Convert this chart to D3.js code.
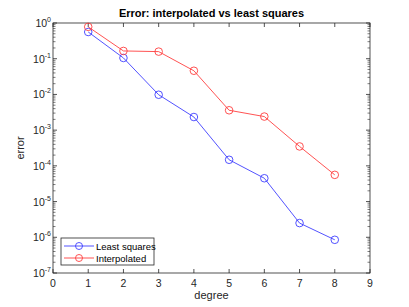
<!DOCTYPE html>
<html lang="en">
<head>
<meta charset="UTF-8">
<title>Error: interpolated vs least squares</title>
<script src="https://d3js.org/d3.v7.min.js"></script>
<style>
body { margin: 0; background: #fff; }
text { font-family: "Liberation Sans", Arial, sans-serif; }
</style>
</head>
<body>
<div id="chart"></div>
<script>
// data
var degrees = [1, 2, 3, 4, 5, 6, 7, 8];
var leastSquares = [0.56, 0.105, 0.0098, 0.00233, 1.48e-4, 4.5e-5, 2.5e-6, 8.5e-7];
var interpolated = [0.78, 0.165, 0.158, 0.046, 0.0036, 0.0024, 3.5e-4, 5.6e-5];
var xTicks = [0, 1, 2, 3, 4, 5, 6, 7, 8, 9];
var yExponents = [0, -1, -2, -3, -4, -5, -6, -7];

var W = 409, H = 307;
var margin = {top: 23, right: 39, bottom: 34, left: 53};
var width = W - margin.left - margin.right,
    height = H - margin.top - margin.bottom;

var svg = d3.select("#chart").append("svg")
    .attr("width", W).attr("height", H);
var g = svg.append("g")
    .attr("transform", "translate(" + margin.left + "," + margin.top + ")");

var x = d3.scaleLinear().domain([0, 9]).range([0, width]);
var y = d3.scaleLog().domain([1e-7, 1]).range([height, 0]);

// box
g.append("rect").attr("width", width).attr("height", height)
  .attr("fill", "none").attr("stroke", "#262626").attr("stroke-width", 0.8);

// x ticks (bottom and top, inward)
xTicks.forEach(function(t) {
  var px = x(t);
  g.append("line").attr("x1", px).attr("x2", px).attr("y1", height).attr("y2", height - 4)
    .attr("stroke", "#262626").attr("stroke-width", 0.8);
  g.append("line").attr("x1", px).attr("x2", px).attr("y1", 0).attr("y2", 4)
    .attr("stroke", "#262626").attr("stroke-width", 0.8);
  g.append("text").attr("x", px).attr("y", height + 14)
    .attr("text-anchor", "middle").attr("font-size", 10.5).attr("fill", "#262626").text(t);
});

// y ticks: major + minor (left and right, inward)
yExponents.forEach(function(e) {
  var py = y(Math.pow(10, e));
  [[0, 4], [width, width - 4]].forEach(function(s) {
    g.append("line").attr("x1", s[0]).attr("x2", s[1]).attr("y1", py).attr("y2", py)
      .attr("stroke", "#262626").attr("stroke-width", 0.8);
  });
  var lab = g.append("text").attr("x", -2).attr("y", py + 4)
    .attr("text-anchor", "end").attr("font-size", 10.5).attr("fill", "#262626");
  lab.append("tspan").text("10");
  lab.append("tspan").attr("dy", -5).attr("font-size", 7).text(e);
  if (e > -7) {
    for (var k = 2; k <= 9; k++) {
      var my = y(k * Math.pow(10, e - 1));
      [[0, 2.5], [width, width - 2.5]].forEach(function(s) {
        g.append("line").attr("x1", s[0]).attr("x2", s[1]).attr("y1", my).attr("y2", my)
          .attr("stroke", "#262626").attr("stroke-width", 0.6);
      });
    }
  }
});

// series
var series = [
  {name: "Least squares", values: leastSquares, color: "#4040ff"},
  {name: "Interpolated", values: interpolated, color: "#ff4040"}
];
var line = d3.line().x(function(d) { return x(d[0]); }).y(function(d) { return y(d[1]); });

series.forEach(function(s) {
  var pts = degrees.map(function(d, i) { return [d, s.values[i]]; });
  g.append("path").attr("d", line(pts)).attr("fill", "none")
    .attr("stroke", s.color).attr("stroke-width", 0.9);
  g.selectAll(null).data(pts).enter().append("circle")
    .attr("cx", function(d) { return x(d[0]); })
    .attr("cy", function(d) { return y(d[1]); })
    .attr("r", 3.8).attr("fill", "none")
    .attr("stroke", s.color).attr("stroke-width", 0.9);
});

// legend
var lg = g.append("g").attr("transform", "translate(8," + (height - 35) + ")");
lg.append("rect").attr("width", 93).attr("height", 27)
  .attr("fill", "#fff").attr("stroke", "#262626").attr("stroke-width", 0.8);
series.forEach(function(s, i) {
  var ly = 8 + i * 12;
  lg.append("line").attr("x1", 3).attr("x2", 33).attr("y1", ly).attr("y2", ly)
    .attr("stroke", s.color).attr("stroke-width", 0.9);
  lg.append("circle").attr("cx", 18).attr("cy", ly).attr("r", 3.5)
    .attr("fill", "none").attr("stroke", s.color).attr("stroke-width", 0.9);
  lg.append("text").attr("x", 35).attr("y", ly + 3.5).attr("font-size", 9.5)
    .attr("fill", "#000").text(s.name);
});

// titles
svg.append("text").attr("x", margin.left + width / 2).attr("y", 17)
  .attr("text-anchor", "middle").attr("font-size", 11).attr("font-weight", "bold")
  .attr("fill", "#000").text("Error: interpolated vs least squares");
svg.append("text").attr("x", margin.left + width / 2).attr("y", H - 8)
  .attr("text-anchor", "middle").attr("font-size", 11).attr("fill", "#262626").text("degree");
svg.append("text").attr("transform", "translate(24," + (margin.top + height / 2) + ") rotate(-90)")
  .attr("text-anchor", "middle").attr("font-size", 11).attr("fill", "#262626").text("error");
</script>
</body>
</html>
